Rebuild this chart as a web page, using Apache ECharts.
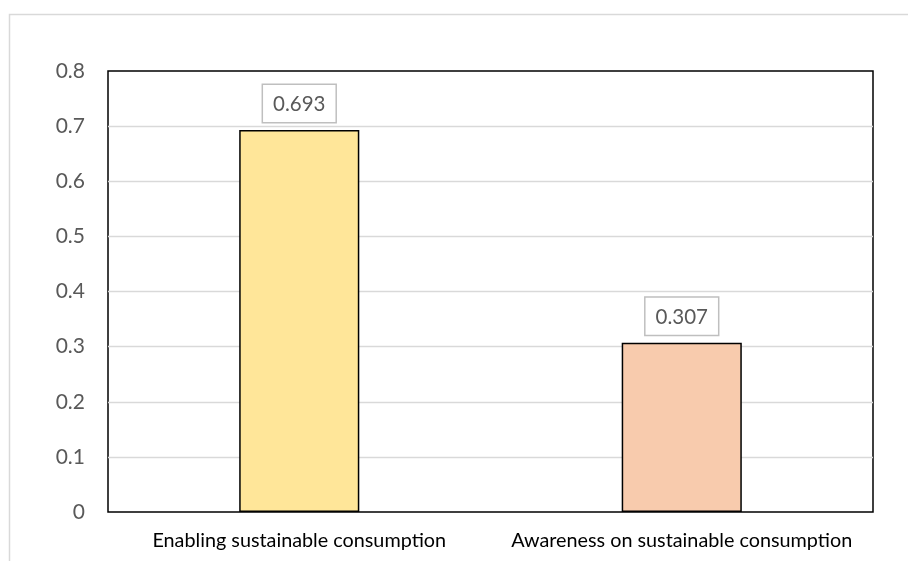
<!DOCTYPE html>
<html>
<head>
<meta charset="utf-8">
<script src="https://cdn.jsdelivr.net/npm/echarts@6/dist/echarts.min.js"></script>
<style>
  html, body { margin: 0; padding: 0; background: #fff; }
  #chart { width: 908px; height: 561px; }
</style>
</head>
<body>
<div id="chart"></div>
<script>
// Share of each dimension
const categories = ['Enabling sustainable consumption', 'Awareness on sustainable consumption'];
const values = [0.693, 0.307];
const barColors = ['#FFE699', '#F8CBAD'];

const chart = echarts.init(document.getElementById('chart'), null, { renderer: 'canvas' });
const font = 'Lato, "Open Sans", "Noto Sans", sans-serif';

chart.setOption({
  animation: false,
  backgroundColor: '#fff',
  graphic: [{
    type: 'rect',
    left: 7, top: 12,
    shape: { width: 1000, height: 1000 },
    style: { fill: 'none', stroke: '#D9D9D9', lineWidth: 1.5 },
    silent: true
  }],
  grid: {
    left: 108, right: 35, top: 71, bottom: 49,
    show: true, borderColor: '#000', borderWidth: 1.5, backgroundColor: 'transparent'
  },
  xAxis: {
    type: 'category',
    data: categories,
    axisLine: { show: false },
    axisTick: { show: false },
    axisLabel: { interval: 0, color: '#000', fontFamily: font, fontSize: 19.8, margin: 19 }
  },
  yAxis: {
    type: 'value',
    min: 0, max: 0.8, interval: 0.1,
    axisLine: { show: false },
    axisTick: { show: false },
    axisLabel: {
      color: '#595959', fontFamily: font, fontSize: 21, margin: 23,
      formatter: v => (Math.round(v * 10) / 10).toString()
    },
    splitLine: { show: true, showMinLine: false, showMaxLine: false, lineStyle: { color: '#D9D9D9', width: 1.3 } }
  },
  series: [{
    type: 'bar',
    barWidth: '31.4%',
    data: values.map((v, i) => ({ value: v, itemStyle: { color: barColors[i] } })),
    itemStyle: { borderColor: '#000', borderWidth: 1.5 },
    label: {
      show: true,
      position: 'top',
      distance: 8,
      color: '#595959',
      fontFamily: font,
      fontSize: 20.5,
      lineHeight: 21,
      padding: [9, 10, 7, 10],
      backgroundColor: '#fff',
      borderColor: '#BFBFBF',
      borderWidth: 1.5,
      formatter: p => p.value.toFixed(3)
    }
  }]
});
</script>
</body>
</html>
